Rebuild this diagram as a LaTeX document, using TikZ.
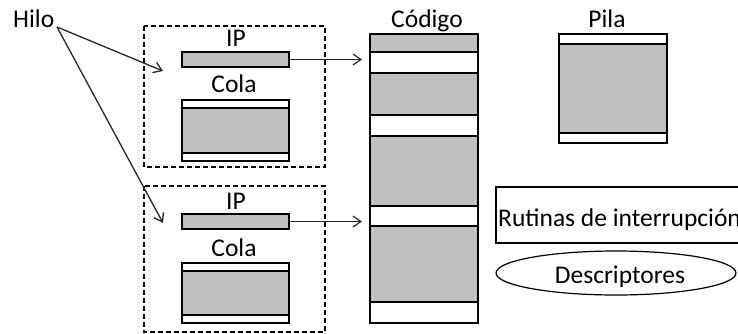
\documentclass[tikz,border=0pt]{standalone}
\usepackage{fontspec}
\setmainfont{Carlito}
\usetikzlibrary{arrows.meta,shapes.geometric}
\definecolor{grayfill}{RGB}{191,191,191}
\begin{document}
\begin{tikzpicture}[x=1pt,y=-1pt,
  lbl/.style={inner sep=0pt,font=\fontsize{25.5}{30}\selectfont},
  cell/.style={draw=black,line width=1.5pt},
  shade/.style={cell,fill=grayfill},
  grp/.style={draw=black,dash pattern=on 5pt off 3pt,line width=1.1pt},
  ipbox/.style={shade,minimum width=107pt,minimum height=15pt,inner sep=0pt},
  link/.style={draw=black!85,line width=1pt,-{Straight Barb[length=8pt,width=11pt,line width=1.2pt]}},
  hilolink/.style={draw=black!85,line width=1.3pt,-{Straight Barb[length=8pt,width=11pt]}}
]
\clip (0,0) rectangle (738,334);

% thread label
\node[lbl,anchor=base west] (hilo) at (13,28) {Hilo};
\coordinate (hilo-out) at (57,27);

% first thread: instruction pointer and queue
\draw[grp] (144,26) rectangle (325,167);
\node[lbl,anchor=base] (iplbl1) at (236,47) {IP};
\node[ipbox] (ip1) at (235.5,59.5) {};
\node[lbl,anchor=base] (colalbl1) at (234,93) {Cola};
\draw[cell,fill=white] (182,100) rectangle (289,161);
\draw[shade] (182,108) rectangle (289,153);

% second thread
\draw[grp] (144,186) rectangle (325,332);
\node[lbl,anchor=base] (iplbl2) at (236,209) {IP};
\node[ipbox] (ip2) at (235.5,221.5) {};
\node[lbl,anchor=base] (colalbl2) at (234,256) {Cola};
\draw[cell,fill=white] (182,263) rectangle (289,323);
\draw[shade] (182,271) rectangle (289,315);

% code segment
\node[lbl,anchor=base] (codlbl) at (427,28) {Código};
\draw[cell,fill=white] (370,34) rectangle (478,323);
\draw[shade] (370,34) rectangle (478,52);
\draw[shade] (370,73) rectangle (478,115);
\draw[shade] (370,136) rectangle (478,206);
\draw[shade] (370,226) rectangle (478,302);
\draw[cell] (370,34) rectangle (478,323);

% stack
\node[lbl,anchor=base] (pilalbl) at (607,28) {Pila};
\draw[cell,fill=white] (559,34) rectangle (667,143);
\draw[shade] (559,44) rectangle (667,133);

% interrupt routines and descriptors
\draw[cell,line width=1.2pt] (496,187) rectangle (760,243);
\node[lbl,anchor=base west] (rutinas) at (498,226) {Rutinas de interrupción};
\node[draw=black,line width=1.2pt,ellipse,minimum width=240pt,minimum height=44pt,inner sep=0pt] (desc) at (616,273) {};
\node[lbl,anchor=base] (desclbl) at (620,283) {Descriptores};

% connectors
\coordinate (t1) at (163,71);
\coordinate (t2) at (163,223);
\coordinate (c1) at (362,59.5);
\coordinate (c2) at (362,221.5);
\draw[hilolink] (hilo-out) -- (t1);
\draw[hilolink] (hilo-out) -- (t2);
\draw[link] (ip1.east) -- (c1);
\draw[link] (ip2.east) -- (c2);
\end{tikzpicture}
\end{document}
